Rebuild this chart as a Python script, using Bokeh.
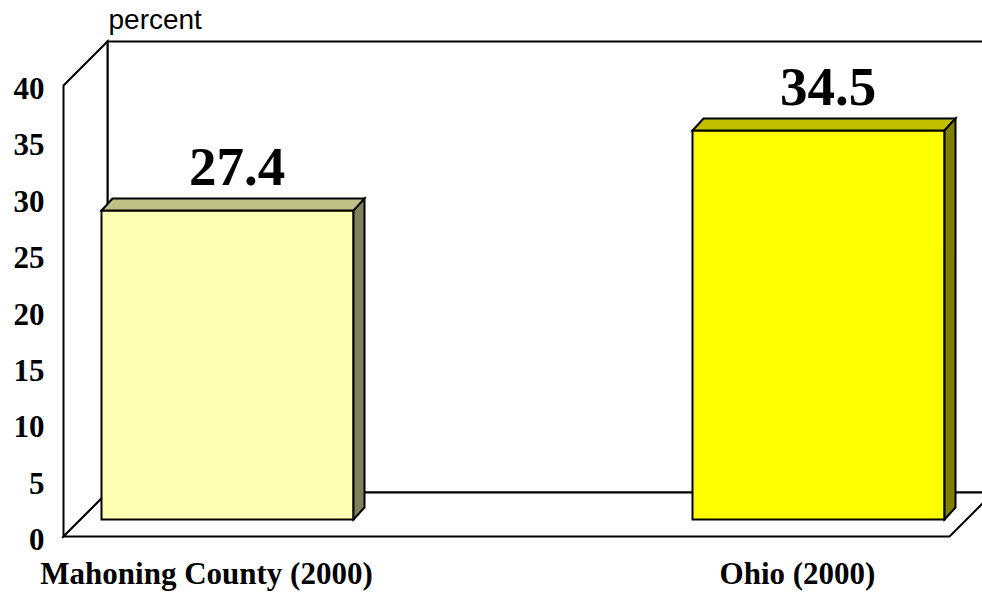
from bokeh.plotting import figure
from bokeh.models import Range1d
from bokeh.core.properties import value
from bokeh.embed import file_html
from bokeh.resources import INLINE

# ---- data ----
categories = ["Mahoning County (2000)", "Ohio (2000)"]
values = [27.4, 34.5]
value_labels = ["27.4", "34.5"]
tick_values = [0, 5, 10, 15, 20, 25, 30, 35, 40]
tick_labels = ["0", "5", "10", "15", "20", "25", "30", "35", "40"]
axis_title = "percent"

# ---- colours ----
front_cols = ["#FFFFB3", "#FFFF00"]
top_cols = ["#C0C087", "#C0C000"]
side_cols = ["#80805A", "#808000"]

# ---- layout (canvas pixels) ----
W, H = 982, 593
PX_PER_UNIT = 11.275
FLOOR_Y = 536                     # canvas y of value 0 on the front plane
Y_START = (FLOOR_Y - H) / PX_PER_UNIT
Y_END = FLOOR_Y / PX_PER_UNIT

def px(v):
    return v / PX_PER_UNIT

AXIS_MAX = 40
FRONT_LEFT, FRONT_RIGHT = 63, 949
WALL_DX, WALL_DY = 44, px(44)
BAR_X0, BAR_STEP, BAR_W = 101, 591, 252
BAR_LIFT = px(17)
BAR_DX, BAR_DY = 11, px(12)

p = figure(width=W, height=H, x_range=Range1d(0, W), y_range=Range1d(Y_START, Y_END),
           output_backend="svg", toolbar_location=None, min_border=0,
           background_fill_color="white", border_fill_color="white")
p.axis.visible = False
p.grid.visible = False
p.outline_line_color = None

# ---- walls & floor ----
bl = FRONT_LEFT + WALL_DX
br = FRONT_RIGHT + WALL_DX
wall_xs = [
    [bl, bl, br + 200, br + 200],                       # back wall
    [FRONT_LEFT, FRONT_LEFT, bl, bl],                   # left side wall
    [FRONT_LEFT, FRONT_RIGHT, br, bl],                  # floor
]
wall_ys = [
    [WALL_DY, AXIS_MAX + WALL_DY, AXIS_MAX + WALL_DY, WALL_DY],
    [0, AXIS_MAX, AXIS_MAX + WALL_DY, WALL_DY],
    [0, 0, WALL_DY, WALL_DY],
]
p.patches(wall_xs, wall_ys, fill_color="white", line_color="black", line_width=2,
          line_join="miter")

# ---- bars ----
xs, ys, cols = [], [], []
for i, v in enumerate(values):
    x0 = BAR_X0 + i * BAR_STEP
    x1 = x0 + BAR_W
    b = BAR_LIFT
    t = BAR_LIFT + v
    xs.append([x0, x1, x1, x0]); ys.append([b, b, t, t]); cols.append(front_cols[i])
    xs.append([x0, x1, x1 + BAR_DX, x0 + BAR_DX]); ys.append([t, t, t + BAR_DY, t + BAR_DY]); cols.append(top_cols[i])
    xs.append([x1, x1 + BAR_DX, x1 + BAR_DX, x1]); ys.append([b, b + BAR_DY, t + BAR_DY, t]); cols.append(side_cols[i])
p.patches(xs=xs, ys=ys, fill_color=cols, line_color="black", line_width=2, line_join="miter")

# ---- value labels ----
lab_x = [BAR_X0 + i * BAR_STEP + (BAR_W + BAR_DX) / 2 + 4 for i in range(len(values))]
lab_y = [BAR_LIFT + v + BAR_DY + px(32) for v in values]
p.text(x=lab_x, y=lab_y, text=value_labels, text_font=value("Liberation Serif"),
       text_font_style="bold", text_font_size="55px", text_align="center",
       text_baseline="middle", text_color="black")

# ---- y tick labels ----
p.text(x=[44] * len(tick_values), y=tick_values, text=tick_labels,
       text_font=value("Liberation Serif"), text_font_style="bold", text_font_size="31px",
       text_align="right", text_baseline="middle", y_offset=3, text_color="black")

# ---- category labels ----
cat_x = [BAR_X0 + i * BAR_STEP + 105 for i in range(len(categories))]
cat_y = [px(FLOOR_Y - 573)] * len(categories)
p.text(x=cat_x, y=cat_y, text=categories, text_font=value("Liberation Serif"),
       text_font_style="bold", text_font_size="31px", text_align="center",
       text_baseline="middle", text_color="black")

# ---- axis title ----
p.text(x=[108], y=[px(FLOOR_Y - 19)], text=[axis_title], text_font=value("Liberation Sans"),
       text_font_size="28px", text_align="left", text_baseline="middle", text_color="black")

open("out.html", "w").write(file_html(p, INLINE))
